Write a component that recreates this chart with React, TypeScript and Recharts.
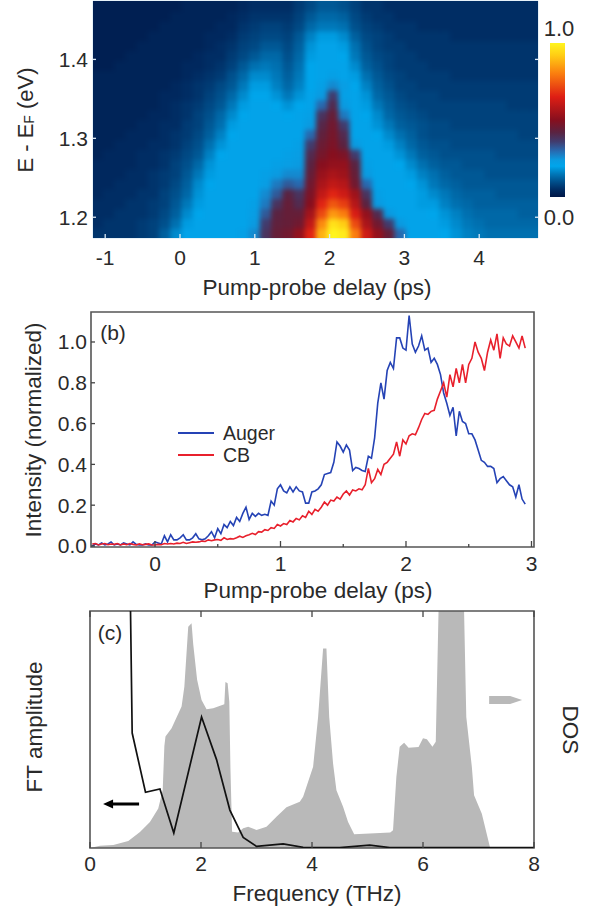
import React from "react";
import { ComposedChart, BarChart, Bar, Scatter, Line, Area, XAxis, YAxis, ReferenceArea, Legend } from "recharts";

const FONT = '"Liberation Sans", Arial, sans-serif';
const INK = "#2a2a2a";

/* ---------- panel (a): heat map ---------- */
const heatDelays = [-1.1,-0.95,-0.8,-0.65,-0.5,-0.35,-0.2,-0.05,0.1,0.25,0.4,0.55,0.7,0.85,1,1.15,1.3,1.45,1.6,1.75,1.9,2.05,2.2,2.35,2.5,2.65,2.8,2.95,3.1,3.25,3.4,3.55,3.7,3.85,4,4.15,4.3,4.45,4.6,4.75];
const heatEnergies = [1.18,1.1925,1.205,1.2175,1.23,1.2425,1.255,1.2675,1.28,1.2925,1.305,1.3175,1.33,1.3425,1.355,1.3675,1.38,1.3925,1.405,1.4175,1.43,1.4425,1.455,1.4675];
const heatRows = [
[6,6,6,6,7,8,12,17,21,21,21,21,21,22,26,38,44,46,52,66,88,100,98,80,62,52,44,30,21,21,21,20,18,16,15,14,14,14,14,14],
[5,6,6,6,7,8,10,14,19,21,21,21,21,21,24,36,43,44,46,60,82,96,92,72,56,46,36,24,21,21,21,19,17,15,14,13,13,13,13,13],
[5,5,6,6,6,7,9,12,17,20,21,21,21,21,23,32,42,44,44,55,72,84,80,64,52,40,24,21,21,21,20,18,16,14,13,13,13,13,12,12],
[5,5,5,6,6,7,8,11,15,19,21,21,21,21,22,28,38,44,40,50,66,74,70,58,42,24,21,21,21,19,19,16,14,13,12,12,12,12,12,12],
[4,5,5,5,6,6,8,10,13,18,21,21,21,21,21,26,32,42,38,48,60,66,62,54,38,22,21,21,21,19,17,15,13,12,12,12,11,11,11,11],
[4,4,5,5,5,6,7,9,12,17,20,21,21,21,21,23,28,32,30,46,56,60,58,46,30,21,21,21,20,18,15,13,12,11,11,11,11,11,11,11],
[4,4,4,5,5,6,7,8,11,15,19,21,21,21,21,22,24,26,26,44,53,56,54,44,24,21,21,21,19,16,14,12,11,11,11,10,10,10,10,10],
[4,4,4,4,5,5,6,8,10,13,18,21,21,21,21,21,22,23,24,42,50,52,52,42,22,21,21,20,17,14,12,11,11,10,10,10,10,10,10,10],
[3,4,4,4,5,5,6,7,9,11,16,20,21,21,21,21,21,22,23,40,47,50,48,36,21,21,21,18,15,12,11,10,10,10,10,10,9,9,9,9],
[3,3,4,4,4,5,5,6,8,10,14,18,21,21,21,21,21,21,22,36,45,48,42,24,21,21,19,16,13,11,10,10,9,9,9,9,9,9,9,9],
[3,3,3,4,4,4,5,6,7,9,12,16,20,21,21,21,21,21,21,30,43,47,40,21,21,20,17,14,12,10,9,9,9,9,9,9,9,9,8,8],
[3,3,3,3,4,4,5,5,7,8,11,14,19,21,21,21,21,21,21,24,41,46,36,21,21,18,15,12,11,10,9,9,8,8,8,8,8,8,8,8],
[3,3,3,3,3,4,4,5,6,8,10,13,17,20,21,21,21,20,21,22,38,44,28,21,20,17,13,11,10,9,8,8,8,8,8,8,8,8,8,8],
[3,3,3,3,3,3,4,5,6,7,9,11,15,19,21,21,20,18,20,21,30,40,24,21,19,15,12,10,9,8,8,8,8,8,8,8,8,7,7,7],
[3,3,3,3,3,3,4,4,5,6,8,10,13,17,20,20,18,15,18,21,24,36,22,21,18,13,11,9,8,8,8,7,7,7,7,7,7,7,7,7],
[3,3,3,3,3,3,3,4,5,6,7,9,11,15,19,19,16,13,16,20,22,26,23,20,16,12,10,8,8,7,7,7,7,7,7,7,7,7,7,7],
[3,3,3,3,3,3,3,3,4,5,6,7,10,13,17,17,15,12,15,20,21,22,21,19,14,11,9,8,7,7,7,7,6,6,6,6,6,6,6,6],
[2,2,3,3,3,3,3,3,4,4,5,6,8,11,14,15,14,11,14,20,21,21,21,17,12,10,8,7,7,7,6,6,6,6,6,6,6,6,6,6],
[2,2,2,3,3,3,3,3,3,4,5,5,7,9,11,13,13,10,13,19,21,21,20,15,11,9,8,7,7,6,6,6,6,6,6,6,6,6,6,6],
[2,2,2,2,3,3,3,3,3,3,4,5,6,8,9,11,11,9,12,18,21,21,19,14,10,8,7,7,6,6,6,6,6,6,6,6,6,6,6,6],
[2,2,2,2,2,3,3,3,3,3,4,4,5,7,8,9,9,8,11,16,19,19,17,12,9,8,7,6,6,6,6,6,5,5,5,5,5,5,5,5],
[2,2,2,2,2,2,3,3,3,3,3,4,4,6,7,8,8,7,9,13,15,15,14,10,8,7,6,6,6,5,5,5,5,5,5,5,5,5,5,5],
[2,2,2,2,2,2,2,3,3,3,3,3,4,5,6,6,6,6,8,11,13,13,12,9,7,6,6,5,5,5,5,5,5,5,5,5,5,5,5,5],
[2,2,2,2,2,2,2,2,3,3,3,3,3,4,5,5,5,5,7,9,11,11,10,8,6,6,5,5,5,5,5,5,5,5,5,5,5,5,5,5],
];
const colorStops: [number, number[]][] = [
  [0, [0, 22, 70]], [5, [0, 45, 100]], [10, [0, 80, 140]], [15, [0, 120, 185]], [20, [0, 165, 235]], [24, [10, 155, 225]],
  [30, [40, 105, 175]], [36, [65, 60, 110]], [42, [90, 35, 65]], [50, [135, 15, 30]], [65, [222, 30, 20]],
  [80, [250, 125, 15]], [92, [255, 205, 20]], [100, [255, 245, 30]],
];
const heatTicksX = [-1, 0, 1, 2, 3, 4];
const heatTicksY = [1.2, 1.3, 1.4];

function heatColor(v: number) {
  for (let i = 1; i < colorStops.length; i++) {
    const [b, cb] = colorStops[i];
    const [a, ca] = colorStops[i - 1];
    if (v <= b) {
      const t = (v - a) / (b - a);
      const c = ca.map((x, k) => Math.round(x + (cb[k] - x) * t));
      return `rgb(${c[0]},${c[1]},${c[2]})`;
    }
  }
  return "rgb(255,245,30)";
}
const heatCells = heatRows.flatMap((row, j) =>
  row.map((level, i) => ({ delay: heatDelays[i], energy: heatEnergies[j], level, i, j }))
);

/* ---------- panel (b) ---------- */
const augerValues = [
0,.01,.005,.015,.005,.01,.02,.005,.01,.005,.015,.01,.005,.02,.008,.005,.005,.01,.005,.005,
.02,.015,.01,.05,.02,.055,.03,.03,.04,.055,.03,.03,.04,.06,.035,.03,.035,.05,.07,.04,
.085,.06,.105,.09,.12,.10,.14,.12,.16,.19,.13,.16,.145,.16,.15,.155,.15,.22,.20,.28,
.30,.27,.26,.29,.265,.29,.27,.265,.21,.21,.265,.27,.28,.30,.35,.355,.36,.41,.51,.49,
.46,.495,.47,.37,.385,.38,.37,.365,.44,.43,.53,.70,.80,.72,.86,.90,.87,1.02,1.02,.97,
.96,1.13,.99,.95,.98,1.03,.96,.97,.90,.92,.89,.84,.75,.70,.64,.68,.54,.66,.61,.60,
.55,.55,.52,.47,.42,.41,.39,.39,.38,.31,.33,.34,.32,.30,.29,.24,.30,.23,.205,
];
const cbValues = [
.01,.012,.005,.01,.012,.006,.01,.008,.012,.005,.01,.006,.012,.008,.005,.01,.006,.008,.01,.005,
.005,.008,.006,.012,.01,.012,.01,.014,.012,.018,.012,.016,.02,.018,.02,.024,.022,.03,.026,.03,
.032,.028,.04,.032,.036,.034,.04,.048,.042,.05,.055,.062,.056,.07,.068,.08,.076,.09,.086,.105,
.098,.11,.105,.125,.118,.135,.128,.148,.14,.17,.155,.18,.17,.19,.215,.20,.225,.22,.24,.23,
.255,.27,.25,.275,.27,.28,.275,.30,.38,.31,.33,.375,.35,.40,.41,.43,.45,.51,.44,.52,
.50,.54,.55,.545,.58,.62,.65,.645,.66,.665,.72,.76,.80,.73,.84,.78,.87,.80,.89,.80,
.89,.92,1.0,.95,.92,.86,.95,1.01,.96,1.04,.92,1.02,.99,.98,1.03,1.0,.97,1.03,.97,
];
const delayStart = -0.5;
const delayStep = 0.025;
const kinetics = augerValues.map((a, i) => ({
  delay: +(delayStart + i * delayStep).toFixed(3),
  Auger: a,
  CB: cbValues[i],
}));
const kinTicksX = [0, 0.5, 1, 1.5, 2, 2.5, 3];
const kinTicksY = [0, 0.2, 0.4, 0.6, 0.8, 1.0];
const BLUE = "#2543b5";
const RED = "#e8202c";

/* ---------- panel (c) ---------- */
const dosFreq = [0,.18,.42,.69,.9,1.08,1.23,1.31,1.34,1.36,1.47,1.65,1.7,1.77,1.83,1.86,1.93,2.01,2.1,2.22,2.42,2.44,2.48,2.51,2.53,2.56,2.67,2.76,2.85,3,3.18,3.36,3.54,3.78,3.84,4.02,4.11,4.2,4.26,4.31,4.38,4.44,4.56,4.65,4.76,5.41,5.46,5.52,5.58,5.66,5.74,5.92,6,6.07,6.17,6.23,6.28,6.74,6.78,6.88,6.92,7.06,7.21,8];
const dosValues = [0,.01,.013,.03,.068,.11,.167,.245,.43,.47,.505,.597,.68,.934,.948,.86,.71,.624,.585,.59,.607,.70,.695,.617,.34,.069,.065,.083,.09,.076,.09,.132,.172,.195,.216,.343,.553,.842,.842,.553,.356,.244,.174,.11,.058,.065,.075,.30,.427,.444,.423,.426,.463,.459,.427,.448,1,1,.553,.343,.223,.145,0,0];
const ftFreq = [.73,.76,1,1.26,1.51,2.01,2.28,2.52,2.76,3,3.48,3.84,4.5,5.04,5.4,6,7,8];
const ftValues = [1,.485,.235,.249,.063,.553,.373,.16,.045,.007,.017,.003,.002,.012,.002,.002,.002,.002];
const leftArrowAt = { f: 0.56, v: 0.186 };
const rightArrowAt = { f: 7.48, v: 0.624 };
const freqTicks = [0, 2, 4, 6, 8];
const GREY = "#b9b9b9";

const spectra = (() => {
  const m = new Map<number, any>();
  const put = (f: number, k: string, v: number) => m.set(f, { ...(m.get(f) || { f }), [k]: v });
  dosFreq.forEach((f, i) => put(f, "dos", dosValues[i]));
  ftFreq.forEach((f, i) => put(f, "ft", ftValues[i]));
  put(leftArrowAt.f, "leftArrow", leftArrowAt.v);
  put(rightArrowAt.f, "rightArrow", rightArrowAt.v);
  return [...m.values()].sort((a, b) => a.f - b.f);
})();

/* ---------- helpers ---------- */
const T = ({ x, y, size = 21, fill = INK, anchor = "middle", children, rot }: any) => (
  <text
    x={x}
    y={y}
    fontSize={size}
    fontFamily={FONT}
    fill={fill}
    textAnchor={anchor}
    dominantBaseline="central"
    transform={rot ? `rotate(${rot} ${x} ${y})` : undefined}
  >
    {children}
  </text>
);

const xTick = (o: { dy?: number; len: number; minorLen?: number; color: string; dir: number }) => (p: any) => {
  const v = p.payload.value;
  const major = Number.isInteger(v);
  const len = major ? o.len : o.minorLen ?? o.len;
  return (
    <g>
      <line x1={p.x} x2={p.x} y1={p.y} y2={p.y + o.dir * len} stroke={o.color} strokeWidth={1.3} />
      {o.dy != null && major ? <T x={p.x} y={p.y + o.dy}>{String(v)}</T> : null}
    </g>
  );
};
const yTick = (o: { dx?: number; len: number; color: string; dir: number }) => (p: any) => (
  <g>
    <line x1={p.x} x2={p.x + o.dir * o.len} y1={p.y} y2={p.y} stroke={o.color} strokeWidth={1.3} />
    {o.dx != null ? <T x={p.x - o.dx} y={p.y} anchor="end">{Number(p.payload.value).toFixed(1)}</T> : null}
  </g>
);

const HeatCell = (p: any) => {
  const w = 12.4;
  const h = 11;
  const { i, j, level } = p.payload;
  const padL = i === 0 ? 10 : 0;
  const padR = i === heatDelays.length - 1 ? 10 : 0;
  const padB = j === 0 ? 10 : 0;
  const padT = j === heatEnergies.length - 1 ? 10 : 0;
  return (
    <rect
      x={p.cx - w / 2 - padL}
      y={p.cy - h / 2 - padT}
      width={w + padL + padR}
      height={h + padT + padB}
      fill={heatColor(level)}
    />
  );
};

const LeftArrow = (p: any) =>
  p.cy == null || p.value == null ? <g key={p.key ?? p.index} /> : (
    <path key={p.key ?? p.index} d={`M${p.cx - 18} ${p.cy} l10 -4.5 v3 h26 v3 h-26 v3 z`} fill="#000" />
  );
const RightArrow = (p: any) =>
  p.cy == null || p.value == null ? <g key={p.key ?? p.index} /> : (
    <path key={p.key ?? p.index} d={`M${p.cx - 16} ${p.cy - 4} h21 l12 4 l-12 4 h-21 z`} fill={GREY} />
  );

const KinLegend = () => (
  <div style={{ fontFamily: FONT, fontSize: 19.5, color: INK, lineHeight: "22px" }}>
    {[["Auger", BLUE], ["CB", RED]].map(([name, c]) => (
      <div key={name} style={{ display: "flex", alignItems: "center" }}>
        <span style={{ display: "inline-block", width: 36, height: 1.6, background: c, marginRight: 9 }} />
        {name}
      </div>
    ))}
  </div>
);

const abs = (top: number, left = 0): React.CSSProperties => ({ position: "absolute", top, left });
const tickOff = { tickSize: 0, tickMargin: 0, axisLine: false, tickLine: false, interval: 0 as const, allowDataOverflow: true };

export default function App() {
  return (
    <div style={{ position: "absolute", left: 0, top: 0, width: 591, height: 909, background: "#fff", overflow: "hidden" }}>
      <style>{`.heat{filter:blur(2.4px);clip-path:url(#heatClip);}`}</style>

      {/* (a) */}
      <div style={abs(0)}>
        <ComposedChart width={591} height={300} margin={{ top: 0, left: 92, right: 52, bottom: 61 }} data={[]}>
          <defs>
            <clipPath id="heatClip"><rect x={93} y={1} width={445} height={237} /></clipPath>
          </defs>
          <XAxis xAxisId="b" type="number" dataKey="delay" height={1} domain={[-1.163, 4.786]} ticks={heatTicksX} {...tickOff} tick={xTick({ dy: 19, len: 4, color: "#dbe9f5", dir: -1 })} />
          <XAxis xAxisId="t" type="number" orientation="top" height={1} domain={[-1.163, 4.786]} ticks={heatTicksX} {...tickOff} tick={xTick({ len: 4, color: "#dbe9f5", dir: 1 })} />
          <YAxis yAxisId="l" type="number" dataKey="energy" width={1} domain={[1.1737, 1.474]} ticks={heatTicksY} {...tickOff} tick={yTick({ dx: 5, len: 3, color: "#dbe9f5", dir: 1 })} />
          <YAxis yAxisId="r" type="number" orientation="right" width={1} domain={[1.1737, 1.474]} ticks={heatTicksY} {...tickOff} tick={yTick({ len: 3, color: "#dbe9f5", dir: -1 })} />
          <Scatter xAxisId="b" yAxisId="l" data={heatCells} shape={HeatCell} className="heat" isAnimationActive={false} />
          <ReferenceArea xAxisId="b" yAxisId="l" x1={-1.163} x2={4.786} y1={1.1737} y2={1.474} fill="none" stroke="#cfe4f2" strokeWidth={1} ifOverflow="visible" />
          <text x={25} y={120} fontSize={22} fontFamily={FONT} fill={INK} textAnchor="middle" dominantBaseline="central" transform="rotate(-90 25 120)">
            E - E<tspan fontSize={14} dy={4}>F</tspan><tspan dy={-4}> (eV)</tspan>
          </text>
          <T x={317} y={287} size={22.5}>Pump-probe delay (ps)</T>
          <T x={120} y={24} fill="#e4e9f0">(a)</T>
          <T x={559} y={28} size={22}>1.0</T>
          <T x={559} y={217} size={22}>0.0</T>
        </ComposedChart>
      </div>
      <div style={abs(43, 550)}>
        <BarChart width={15} height={154} data={[{ name: "scale", top: 1 }]} margin={{ top: 0, left: 0, right: 0, bottom: 0 }} barCategoryGap={0}>
          <defs>
            <linearGradient id="cbGrad" x1="0" y1="1" x2="0" y2="0">
              {colorStops.map(([v]) => (
                <stop key={v} offset={`${v}%`} stopColor={heatColor(v)} />
              ))}
            </linearGradient>
          </defs>
          <XAxis dataKey="name" hide />
          <YAxis hide domain={[0, 1]} />
          <Bar dataKey="top" fill="url(#cbGrad)" isAnimationActive={false} />
        </BarChart>
      </div>

      {/* (b) */}
      <div style={abs(300)}>
        <ComposedChart width={591} height={306} data={kinetics} margin={{ top: 12, left: 90, right: 57, bottom: 58 }}>
          <XAxis type="number" dataKey="delay" height={1} domain={[-0.51, 3.02]} ticks={kinTicksX} {...tickOff} tick={xTick({ dy: 16, len: 6, minorLen: 3, color: "#444", dir: -1 })} />
          <YAxis type="number" width={1} domain={[-0.005, 1.147]} ticks={kinTicksY} {...tickOff} tick={yTick({ dx: 4, len: 4, color: "#444", dir: 1 })} />
          <Line dataKey="Auger" stroke={BLUE} strokeWidth={1.6} dot={false} isAnimationActive={false} />
          <Line dataKey="CB" stroke={RED} strokeWidth={1.6} dot={false} isAnimationActive={false} />
          <ReferenceArea x1={-0.51} x2={3.02} y1={-0.005} y2={1.147} fill="none" stroke="#555" strokeWidth={1.6} ifOverflow="visible" />
          <Legend content={KinLegend} layout="horizontal" verticalAlign="middle" wrapperStyle={{ left: 178, top: 122, width: 120 }} />
          <T x={33} y={130} size={22.5} rot={-90}>Intensity (normalized)</T>
          <T x={318} y={290} size={22.5}>Pump-probe delay (ps)</T>
          <T x={113} y={32}>(b)</T>
        </ComposedChart>
      </div>

      {/* (c) */}
      <div style={abs(600)}>
        <ComposedChart width={591} height={309} data={spectra} margin={{ top: 10, left: 89, right: 57, bottom: 60 }}>
          <XAxis xAxisId="b" type="number" dataKey="f" height={1} domain={[0, 8]} ticks={freqTicks} {...tickOff} tick={xTick({ dy: 15, len: 6, color: "#444", dir: -1 })} />
          <XAxis xAxisId="t" type="number" dataKey="f" orientation="top" height={1} domain={[0, 8]} ticks={freqTicks} {...tickOff} tick={xTick({ len: 6, color: "#444", dir: 1 })} />
          <YAxis type="number" width={1} domain={[0, 1]} allowDataOverflow tick={false} axisLine={false} tickLine={false} />
          <Area xAxisId="b" dataKey="dos" type="linear" stroke="none" fill={GREY} fillOpacity={1} connectNulls dot={false} activeDot={false} isAnimationActive={false} />
          <Line xAxisId="b" dataKey="ft" type="linear" stroke="#111" strokeWidth={1.7} connectNulls dot={false} isAnimationActive={false} />
          <Line xAxisId="b" dataKey="leftArrow" stroke="none" dot={LeftArrow} isAnimationActive={false} />
          <Line xAxisId="b" dataKey="rightArrow" stroke="none" dot={RightArrow} isAnimationActive={false} />
          <ReferenceArea xAxisId="b" x1={0} x2={8} y1={0} y2={1} fill="none" stroke="#555" strokeWidth={1.6} ifOverflow="visible" />
          <T x={34} y={127} size={22.5} rot={-90}>FT amplitude</T>
          <T x={570} y={130} size={22.5} rot={90}>DOS</T>
          <T x={317} y={293} size={22.5}>Frequency (THz)</T>
          <T x={110} y={32}>(c)</T>
        </ComposedChart>
      </div>
    </div>
  );
}
